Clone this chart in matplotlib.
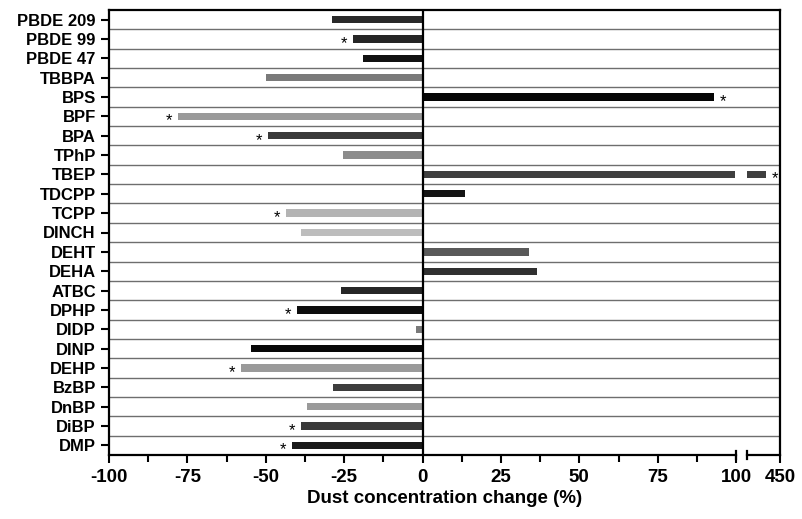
import matplotlib
matplotlib.use('Agg')
import matplotlib.pyplot as plt
import numpy as np

plt.rcParams['font.family'] = ['Liberation Sans', 'DejaVu Sans']

# bottom -> top
compounds = ["DMP", "DiBP", "DnBP", "BzBP", "DEHP", "DINP", "DIDP", "DPHP",
             "ATBC", "DEHA", "DEHT", "DINCH", "TCPP", "TDCPP", "TBEP", "TPhP",
             "BPA", "BPF", "BPS", "TBBPA", "PBDE 47", "PBDE 99", "PBDE 209"]
change = [-41.5, -38.8, -37.0, -28.7, -57.8, -54.8, -2.0, -39.9,
          -26.0, 36.4, 33.8, -38.9, -43.5, 13.5, 429, -25.3,
          -49.3, -77.9, 92.9, -49.8, -19.0, -22.2, -29.0]
signif = [1, 1, 0, 0, 1, 0, 0, 1,
          0, 0, 0, 0, 1, 0, 1, 0,
          1, 1, 1, 0, 0, 1, 0]
colors = ["#1a1a1a", "#3a3a3a", "#9a9a9a", "#3d3d3d", "#9a9a9a", "#080808",
          "#7a7a7a", "#0d0d0d", "#262626", "#303030", "#595959", "#bdbdbd",
          "#b4b4b4", "#141414", "#3f3f3f", "#8c8c8c", "#3a3a3a", "#9a9a9a",
          "#050505", "#7a7a7a", "#111111", "#262626", "#2a2a2a"]

# broken x axis: -100..100 linear, then 400..450 compressed
R0 = 400.0
GAP = 3.5
K = 0.21


def fwd(x):
    x = np.asarray(x, dtype=float)
    return np.where(x <= 100, x,
                    np.where(x < R0, 100 + (x - 100) * GAP / (R0 - 100),
                             100 + GAP + (x - R0) * K))


def inv(t):
    t = np.asarray(t, dtype=float)
    return np.where(t <= 100, t,
                    np.where(t < 100 + GAP, 100 + (t - 100) * (R0 - 100) / GAP,
                             R0 + (t - 100 - GAP) / K))


fig = plt.figure(figsize=(8.02, 5.19), dpi=100)
ax = fig.add_axes([109 / 802, 64 / 519, 671 / 802, 445 / 519])
ax.set_xscale('function', functions=(fwd, inv))

y = np.arange(len(compounds))
h = 0.38
for i, (v, c) in enumerate(zip(change, colors)):
    if v > 100:
        ax.barh(i, 99.6, height=h, color=c, left=0)
        ax.barh(i, v - R0, height=h, color=c, left=R0)
    else:
        ax.barh(i, v, height=h, color=c)
    if signif[i]:
        dx = -6.5 if v < 0 else 6.5
        ax.annotate('*', xy=(v, i), xytext=(dx, -6.5), textcoords='offset points',
                    ha='center', va='baseline', fontsize=12)

for b in y[:-1] + 0.5:
    ax.axhline(b, color='#6e6e6e', lw=1.0, zorder=0)
ax.axvline(0, color='black', lw=1.6, zorder=3)

ax.set_xlim(-100, 450)
ax.set_ylim(-0.5, len(compounds) - 0.5)

ax.set_yticks(y)
ax.set_yticklabels(compounds, fontsize=12, fontweight='bold')
ax.set_xticks([-100, -75, -50, -25, 0, 25, 50, 75, 100, 450])
ax.set_xticklabels(['-100', '-75', '-50', '-25', '0', '25', '50', '75', '100', '450'],
                   fontsize=13.5, fontweight='bold')
ax.set_xticks(np.arange(-87.5, 100, 25), minor=True)
ax.tick_params(axis='both', which='major', direction='out', length=6, width=1.5)
ax.tick_params(axis='x', which='minor', direction='out', length=5, width=1.5)
ax.tick_params(axis='x', pad=4)

for s in ax.spines.values():
    s.set_linewidth(1.6)
ax.spines['bottom'].set_bounds(-100, 100)
tr = ax.get_xaxis_transform()
ax.plot([R0, 450], [0, 0], color='black', lw=1.6, transform=tr, clip_on=False)
for xb in [100, R0]:
    ax.plot([xb, xb], [-0.009, 0.009], color='black', lw=1.6, transform=tr,
            clip_on=False)

ax.set_xlabel('Dust concentration change (%)', fontsize=13.5, fontweight='bold',
              labelpad=3)

fig.savefig('out.png', dpi=100)
